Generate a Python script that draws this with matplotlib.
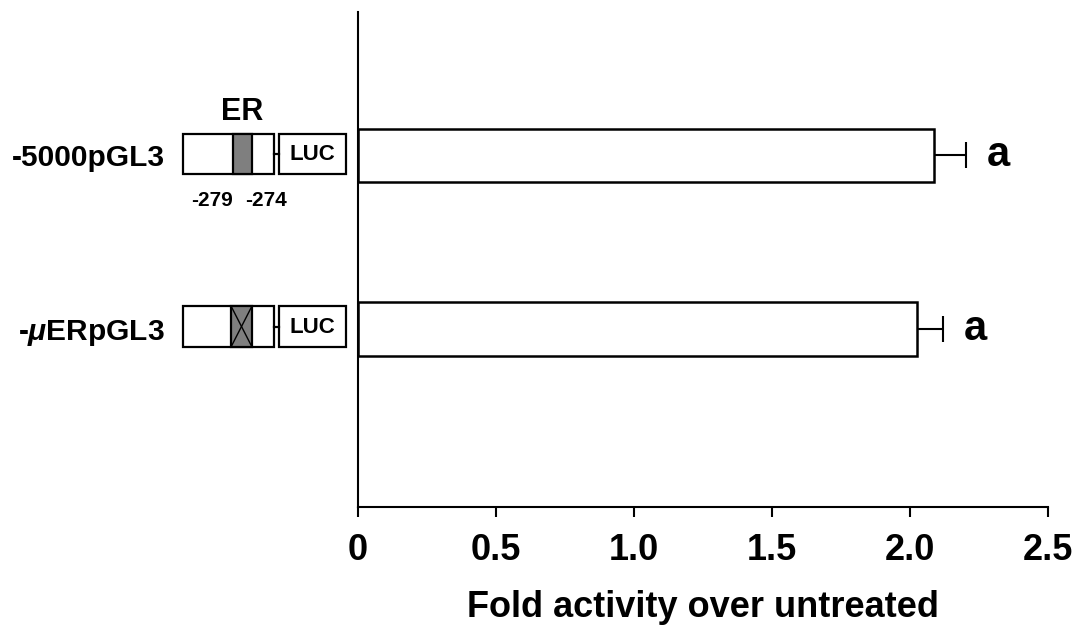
import matplotlib
matplotlib.use("Agg")
import matplotlib.pyplot as plt
from matplotlib.patches import Rectangle
from matplotlib.lines import Line2D

# ---- data ----
constructs = ["-5000pGL3", r"-$\mu$ERpGL3"]
fold_activity = [2.087, 2.025]
fold_error = [0.116, 0.094]
sig_letters = ["a", "a"]
xticks = [0, 0.5, 1.0, 1.5, 2.0, 2.5]
xtick_labels = ["0", "0.5", "1.0", "1.5", "2.0", "2.5"]
xlabel = "Fold activity over untreated"

plt.rcParams['font.family'] = ['Liberation Sans', 'DejaVu Sans']
plt.rcParams['mathtext.fontset'] = 'custom'
plt.rcParams['mathtext.it'] = 'Liberation Sans:italic:bold'
plt.rcParams['mathtext.rm'] = 'Liberation Sans:bold'

W, H = 1086, 626
fig = plt.figure(figsize=(W / 100, H / 100), dpi=100)
fig.patch.set_facecolor('white')

left, right, top, bottom = 358, 1048, 12, 507
ax = fig.add_axes([left / W, 1 - bottom / H, (right - left) / W, (bottom - top) / H])

ypos = list(range(len(constructs)))
ax.barh(ypos, fold_activity, height=0.31, color='white', edgecolor='black',
        linewidth=1.8, zorder=2)
ax.errorbar(fold_activity, ypos, xerr=[[0] * len(fold_error), fold_error],
            fmt='none', ecolor='black', elinewidth=1.5, capsize=9.3, capthick=1.5,
            zorder=1)
for v, e, y, s in zip(fold_activity, fold_error, ypos, sig_letters):
    ax.annotate(s, xy=(v + e, y), xytext=(15, 0), textcoords='offset points',
                ha='left', va='center', fontsize=30, fontweight='bold')

ax.set_xlim(0, 2.5)
ax.set_ylim(2.026, -0.827)
ax.set_xticks(xticks)
ax.set_xticklabels(xtick_labels, fontsize=26, fontweight='bold')
ax.set_yticks(ypos)
ax.set_yticklabels(constructs, fontsize=21.5, fontweight='bold')
ax.tick_params(axis='x', direction='out', length=7, width=1.5, pad=12)
ax.tick_params(axis='y', length=0, pad=139)
for sp in ['top', 'right']:
    ax.spines[sp].set_visible(False)
for sp in ['left', 'bottom']:
    ax.spines[sp].set_linewidth(1.5)
ax.set_xlabel(xlabel, fontsize=26, fontweight='bold')
ax.xaxis.set_label_coords(0.5, -0.168)

# ---- construct diagrams (pixel-space overlay) ----
ov = fig.add_axes([0, 0, 1, 1], facecolor='none')
ov.set_xlim(0, W)
ov.set_ylim(H, 0)
ov.axis('off')

lw = 1.6
gray = '#7f7f7f'
diagrams = [
    dict(y0=134, y1=174, gray=(233, 252), cross=False),
    dict(y0=306, y1=347, gray=(231, 252), cross=True),
]
for d in diagrams:
    y0, y1 = d['y0'], d['y1']
    ym = (y0 + y1) / 2
    ov.add_patch(Rectangle((183, y0), 274 - 183, y1 - y0, facecolor='white',
                           edgecolor='black', linewidth=lw))
    g0, g1 = d['gray']
    ov.add_patch(Rectangle((g0, y0), g1 - g0, y1 - y0, facecolor=gray,
                           edgecolor='black', linewidth=lw))
    if d['cross']:
        ov.add_line(Line2D([g0, g1], [y0, y1], color='black', linewidth=1))
        ov.add_line(Line2D([g1, g0], [y0, y1], color='black', linewidth=1))
    ov.add_line(Line2D([274, 279], [ym, ym], color='black', linewidth=lw))
    ov.add_patch(Rectangle((279, y0), 346 - 279, y1 - y0, facecolor='white',
                           edgecolor='black', linewidth=lw))
    ov.text(312.5, ym + 1, "LUC", ha='center', va='center', fontsize=16,
            fontweight='bold')

ov.text(242, 112, "ER", ha='center', va='center', fontsize=22, fontweight='bold')
ov.text(212.5, 200, "-279", ha='center', va='center', fontsize=15, fontweight='bold')
ov.text(266, 200, "-274", ha='center', va='center', fontsize=15, fontweight='bold')

fig.savefig("out.png", dpi=100, facecolor='white')
